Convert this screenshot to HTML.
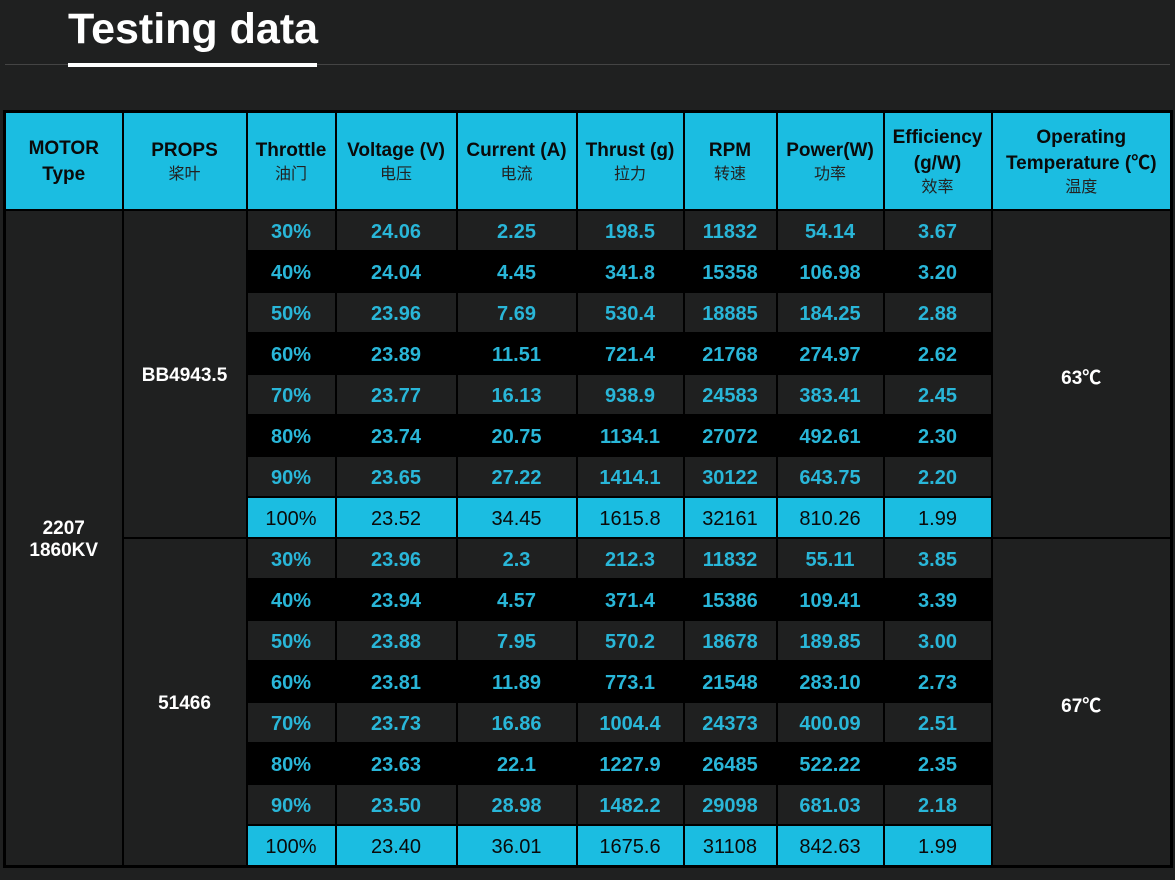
<!DOCTYPE html>
<html><head><meta charset="utf-8"><style>
body{margin:0;width:1175px;height:880px;background:#1f2020;overflow:hidden;font-family:"Liberation Sans","Noto Sans CJK SC",sans-serif;position:relative}
.t{position:absolute;left:68px;top:4px;font-size:43px;font-weight:bold;color:#fff;line-height:50px}
.ul{position:absolute;left:68px;top:63px;width:249px;height:4px;background:#fff}
.gl{position:absolute;left:5px;top:64px;width:1165px;height:1px;background:#444}
table{position:absolute;left:3px;top:110px;width:1169px;border-collapse:collapse;table-layout:fixed;border:3px solid #000}
td{border:2px solid #000;text-align:center;padding:4px 0 0 0;font-weight:bold;font-size:20px;color:#29b6d8;height:35px;background:#1f2020}
tr.h td{background:#1bbde1;color:#0a0a0a;height:94px;padding:2px 0 0 0;font-size:19px;line-height:26px}
tr.h td span{font-weight:normal;font-size:16px;color:#222;display:block;line-height:22px}
tr.k td.d{background:#000}
tr.x td.d{background:#1bbde1;color:#0a0a0a;font-weight:normal}
td.w{color:#fff;font-size:19px}
</style></head><body>
<div class="t">Testing data</div><div class="gl"></div><div class="ul"></div>
<table>
<colgroup><col style="width:118px"><col style="width:124px"><col style="width:89px"><col style="width:121px"><col style="width:120px"><col style="width:107px"><col style="width:93px"><col style="width:107px"><col style="width:108px"><col style="width:180px"></colgroup>
<tr class="h"><td>MOTOR<br>Type</td><td>PROPS<span>桨叶</span></td><td>Throttle<span>油门</span></td><td>Voltage (V)<span>电压</span></td><td>Current (A)<span>电流</span></td><td>Thrust (g)<span>拉力</span></td><td>RPM<span>转速</span></td><td>Power(W)<span>功率</span></td><td>Efficiency<br>(g/W)<span>效率</span></td><td>Operating<br>Temperature (℃)<span>温度</span></td></tr>
<tr><td rowspan="16" class="w">2207<br>1860KV</td><td rowspan="8" class="w">BB4943.5</td><td class="d">30%</td><td class="d">24.06</td><td class="d">2.25</td><td class="d">198.5</td><td class="d">11832</td><td class="d">54.14</td><td class="d">3.67</td><td rowspan="8" class="w">63℃</td></tr>
<tr class="k"><td class="d">40%</td><td class="d">24.04</td><td class="d">4.45</td><td class="d">341.8</td><td class="d">15358</td><td class="d">106.98</td><td class="d">3.20</td></tr>
<tr><td class="d">50%</td><td class="d">23.96</td><td class="d">7.69</td><td class="d">530.4</td><td class="d">18885</td><td class="d">184.25</td><td class="d">2.88</td></tr>
<tr class="k"><td class="d">60%</td><td class="d">23.89</td><td class="d">11.51</td><td class="d">721.4</td><td class="d">21768</td><td class="d">274.97</td><td class="d">2.62</td></tr>
<tr><td class="d">70%</td><td class="d">23.77</td><td class="d">16.13</td><td class="d">938.9</td><td class="d">24583</td><td class="d">383.41</td><td class="d">2.45</td></tr>
<tr class="k"><td class="d">80%</td><td class="d">23.74</td><td class="d">20.75</td><td class="d">1134.1</td><td class="d">27072</td><td class="d">492.61</td><td class="d">2.30</td></tr>
<tr><td class="d">90%</td><td class="d">23.65</td><td class="d">27.22</td><td class="d">1414.1</td><td class="d">30122</td><td class="d">643.75</td><td class="d">2.20</td></tr>
<tr class="x"><td class="d">100%</td><td class="d">23.52</td><td class="d">34.45</td><td class="d">1615.8</td><td class="d">32161</td><td class="d">810.26</td><td class="d">1.99</td></tr>
<tr><td rowspan="8" class="w">51466</td><td class="d">30%</td><td class="d">23.96</td><td class="d">2.3</td><td class="d">212.3</td><td class="d">11832</td><td class="d">55.11</td><td class="d">3.85</td><td rowspan="8" class="w">67℃</td></tr>
<tr class="k"><td class="d">40%</td><td class="d">23.94</td><td class="d">4.57</td><td class="d">371.4</td><td class="d">15386</td><td class="d">109.41</td><td class="d">3.39</td></tr>
<tr><td class="d">50%</td><td class="d">23.88</td><td class="d">7.95</td><td class="d">570.2</td><td class="d">18678</td><td class="d">189.85</td><td class="d">3.00</td></tr>
<tr class="k"><td class="d">60%</td><td class="d">23.81</td><td class="d">11.89</td><td class="d">773.1</td><td class="d">21548</td><td class="d">283.10</td><td class="d">2.73</td></tr>
<tr><td class="d">70%</td><td class="d">23.73</td><td class="d">16.86</td><td class="d">1004.4</td><td class="d">24373</td><td class="d">400.09</td><td class="d">2.51</td></tr>
<tr class="k"><td class="d">80%</td><td class="d">23.63</td><td class="d">22.1</td><td class="d">1227.9</td><td class="d">26485</td><td class="d">522.22</td><td class="d">2.35</td></tr>
<tr><td class="d">90%</td><td class="d">23.50</td><td class="d">28.98</td><td class="d">1482.2</td><td class="d">29098</td><td class="d">681.03</td><td class="d">2.18</td></tr>
<tr class="x"><td class="d">100%</td><td class="d">23.40</td><td class="d">36.01</td><td class="d">1675.6</td><td class="d">31108</td><td class="d">842.63</td><td class="d">1.99</td></tr>
</table>
</body></html>
